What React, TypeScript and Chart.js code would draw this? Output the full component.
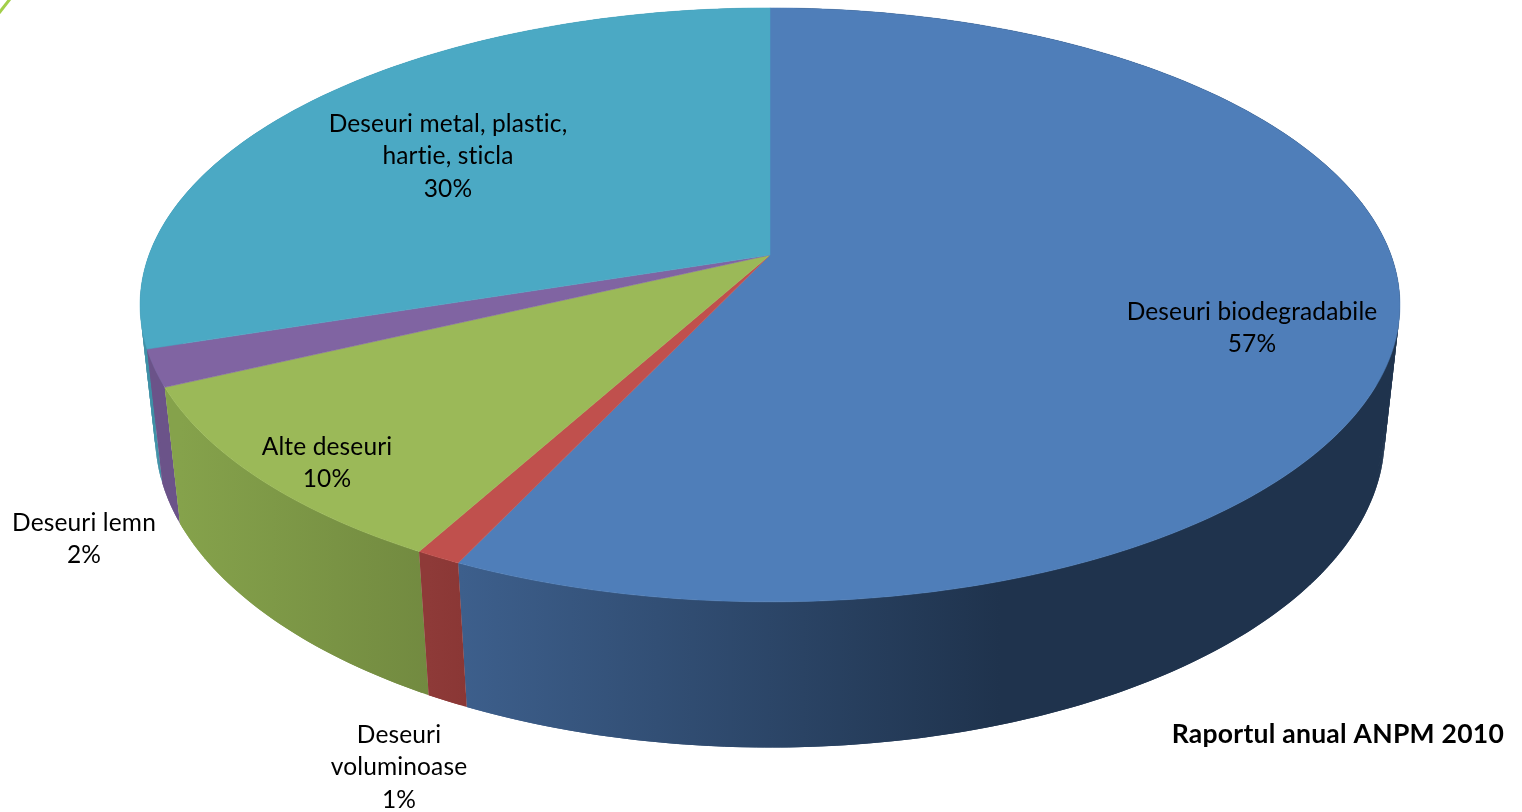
import React, { useEffect, useRef } from "react";
import { Chart, registerables } from "chart.js";

Chart.register(...registerables);

const categories = [
  "Deseuri biodegradabile",
  "Deseuri voluminoase",
  "Alte deseuri",
  "Deseuri lemn",
  "Deseuri metal, plastic, hartie, sticla",
];
const shares = [57, 1, 10, 2, 30];
const topColors = ["#4f7eb9", "#c0504d", "#9bb958", "#8064a2", "#4ba9c4"];
const sideStart = ["#3d5f8c", "#8e3a38", "#85a24b", "#6b5389", "#3f90a6"];
const sideEnd = ["#1f334d", "#8a3735", "#728a40", "#6b5389", "#3f90a6"];
const sourceNote = "Raportul anual ANPM 2010";

// Label layout: wrapped lines, centre x and the y of the first line.
const labelLines = [
  ["Deseuri biodegradabile"],
  ["Deseuri", "voluminoase"],
  ["Alte deseuri"],
  ["Deseuri lemn"],
  ["Deseuri metal, plastic,", "hartie, sticla"],
];
const labelAnchors = [
  [1252, 312],
  [399, 735],
  [327, 447],
  [84, 523],
  [448, 124],
];
const LINE_H = 32.5;
const FONT = "Lato, Carlito, Calibri, sans-serif";

// Perspective projection of the pie's disc.
const CX = 770;
const CY = 255;
const R = 621;
const S = 288.6;
const P = 0.168;
const DEPTH_Y = 133;
const DEPTH_W = 0.024;

function project(theta: number, h: number): [number, number] {
  const u = Math.cos(theta);
  const v = -Math.sin(theta);
  const w = 1 + P * v + DEPTH_W * h;
  return [CX + (R * u) / w, CY + (-S * v + DEPTH_Y * h) / w];
}

function stepsFor(a: number, b: number) {
  return Math.max(2, Math.ceil(Math.abs(b - a) * 90));
}

const pie3d = {
  id: "pie3d",
  beforeDatasetsDraw(chart: any) {
    const ctx: CanvasRenderingContext2D = chart.ctx;
    const arcs = chart.getDatasetMeta(0).data;
    ctx.save();

    // side wall, furthest slices first; every quad overlaps the next one so no seams show
    const order = [4, 3, 2, 0, 1];
    for (const i of order) {
      const a = arcs[i].startAngle;
      const b = arcs[i].endAngle;
      const [xa] = project(a, 1);
      const [xb] = project(b, 1);
      let x0 = Math.min(xa, xb);
      let x1 = Math.max(xa, xb);
      if (i === 0) {
        x0 = 460;
        x1 = 1000;
      }
      const g = ctx.createLinearGradient(x0, 0, x1, 0);
      g.addColorStop(0, sideStart[i]);
      g.addColorStop(1, sideEnd[i]);
      ctx.fillStyle = g;
      const n = stepsFor(a, b);
      for (let k = 0; k < n; k++) {
        const t0 = a + ((b - a) * k) / n;
        const t1 = a + ((b - a) * Math.min(n, k + 2)) / n;
        const p = [project(t0, 0), project(t1, 0), project(t1, 1), project(t0, 1)];
        ctx.beginPath();
        p.forEach(([x, y], j) => (j ? ctx.lineTo(x, y) : ctx.moveTo(x, y)));
        ctx.closePath();
        ctx.fill();
      }
    }

    // top face
    arcs.forEach((arc: any, i: number) => {
      ctx.fillStyle = topColors[i];
      ctx.strokeStyle = topColors[i];
      ctx.lineWidth = 0.5;
      ctx.beginPath();
      ctx.moveTo(CX, CY);
      const n = stepsFor(arc.startAngle, arc.endAngle);
      for (let k = 0; k <= n; k++) {
        const [x, y] = project(arc.startAngle + ((arc.endAngle - arc.startAngle) * k) / n, 0);
        ctx.lineTo(x, y);
      }
      ctx.closePath();
      ctx.fill();
      ctx.stroke();
    });

    // labels
    ctx.fillStyle = "#000";
    ctx.textAlign = "center";
    ctx.textBaseline = "middle";
    (ctx as any).letterSpacing = "0.14px";
    ctx.font = `24.5px ${FONT}`;
    labelLines.forEach((lines, i) => {
      const rows = [...lines, `${shares[i]}%`];
      rows.forEach((t, k) => ctx.fillText(t, labelAnchors[i][0], labelAnchors[i][1] + k * LINE_H));
    });
    (ctx as any).letterSpacing = "0.25px";
    ctx.font = `bold 26.5px ${FONT}`;
    ctx.textAlign = "right";
    ctx.fillText(sourceNote, 1504, 734);
    (ctx as any).letterSpacing = "0px";

    // corner decoration stroke
    ctx.strokeStyle = "#a3cf4a";
    ctx.lineWidth = 3;
    ctx.beginPath();
    ctx.moveTo(10, -1);
    ctx.lineTo(-1, 13);
    ctx.stroke();

    ctx.restore();
    return false;
  },
};

export default function App() {
  const ref = useRef<HTMLCanvasElement>(null);
  useEffect(() => {
    document.body.style.margin = "0";
    document.body.style.background = "#fff";
    const chart = new Chart(ref.current!, {
      type: "pie",
      data: {
        labels: categories,
        datasets: [{ data: shares, backgroundColor: topColors, borderWidth: 0 }],
      },
      options: {
        responsive: false,
        animation: false,
        rotation: 0,
        plugins: { legend: { display: false }, tooltip: { enabled: false } },
      },
      plugins: [pie3d],
    } as any);
    return () => chart.destroy();
  }, []);
  return <canvas ref={ref} width={1522} height={812} style={{ display: "block" }} />;
}
